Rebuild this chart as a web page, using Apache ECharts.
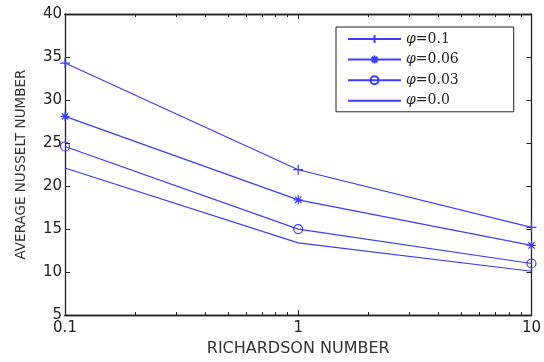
<!DOCTYPE html>
<html>
<head>
<meta charset="utf-8">
<script src="https://cdn.jsdelivr.net/npm/echarts@6/dist/echarts.min.js"></script>
<style>
  html, body { margin: 0; padding: 0; background: #fff; }
  #chart { width: 544px; height: 362px; }
</style>
</head>
<body>
<div id="chart"></div>
<script>
// x positions (Richardson number, log scale)
const richardson = [0.1, 1, 10];
const seriesNames = ['φ=0.1', 'φ=0.06', 'φ=0.03', 'φ=0.0'];
const nu01 = [34.3, 21.9, 15.2];
const nu006 = [28.1, 18.4, 13.1];
const nu003 = [24.6, 15.0, 11.0];
const nu00 = [22.1, 13.4, 10.1];
const majorTicks = [0.1, 1, 10];
const minorTicks = [0.2, 0.3, 0.4, 0.5, 0.6, 0.7, 0.8, 0.9, 2, 3, 4, 5, 6, 7, 8, 9];

const blue = '#3c3cff';
const plusPath = 'path://M0,5L10,5M5,0L5,10';
const starPath = 'path://M0,5L10,5M5,0L5,10M1.5,1.5L8.5,8.5M1.5,8.5L8.5,1.5';

const chart = echarts.init(document.getElementById('chart'));

const pairs = (ys) => richardson.map((x, i) => [x, ys[i]]);

const baseLine = (name, data, symbol, size) => ({
    name,
    type: 'line',
    data: pairs(data),
    symbol: symbol,
    symbolSize: size,
    showSymbol: symbol !== 'none',
    lineStyle: { color: blue, width: 1.2 },
    itemStyle: { color: 'rgba(0,0,0,0)', borderColor: blue, borderWidth: 1.2 },
    emphasis: { disabled: true },
    animation: false
});

const tickFont = { color: '#222', fontSize: 15, fontFamily: 'DejaVu Sans' };

const logAxis = (pos, ticks, len, labels) => ({
    type: 'log',
    logBase: 10,
    position: pos,
    min: 0.1,
    max: 10,
    axisLine: { show: true, onZero: false, lineStyle: { color: '#222', width: 1.3 } },
    axisTick: { show: true, inside: true, length: len, customValues: ticks, lineStyle: { color: '#222', width: 1 } },
    axisLabel: labels ? Object.assign({
        show: true, customValues: ticks, margin: 6,
        formatter: (v) => String(v)
    }, tickFont) : { show: false },
    splitLine: { show: false },
    minorTick: { show: false }
});

const option = {
    backgroundColor: '#fff',
    grid: { left: 65, right: 9.5, top: 14, bottom: 41, containLabel: false },
    xAxis: [
        Object.assign(logAxis('bottom', majorTicks, 5, true), {
            name: 'RICHARDSON NUMBER',
            nameLocation: 'middle',
            nameGap: 25,
            nameTextStyle: { color: '#333', fontSize: 16, fontFamily: 'DejaVu Sans' }
        }),
        logAxis('bottom', minorTicks, 3, false),
        logAxis('top', majorTicks, 5, false),
        logAxis('top', minorTicks, 3, false)
    ],
    yAxis: [
        {
            type: 'value',
            position: 'left',
            min: 5,
            max: 40,
            interval: 5,
            name: 'AVERAGE NUSSELT NUMBER',
            nameLocation: 'middle',
            nameGap: 37,
            nameTextStyle: { color: '#333', fontSize: 13.5, fontFamily: 'DejaVu Sans' },
            axisLine: { show: true, lineStyle: { color: '#222', width: 1.3 } },
            axisTick: { show: true, inside: true, length: 5, lineStyle: { color: '#222' } },
            axisLabel: Object.assign({ margin: 3 }, tickFont),
            splitLine: { show: false }
        },
        {
            type: 'value',
            position: 'right',
            min: 5,
            max: 40,
            interval: 5,
            axisLine: { show: true, lineStyle: { color: '#222', width: 1.3 } },
            axisTick: { show: true, inside: true, length: 5, lineStyle: { color: '#222' } },
            axisLabel: { show: false },
            splitLine: { show: false }
        }
    ],
    legend: {
        orient: 'vertical',
        left: 336,
        top: 27,
        padding: [5, 55, 4, 11],
        itemWidth: 53,
        itemHeight: 10,
        itemGap: 6.6,
        borderColor: '#222',
        borderWidth: 1,
        backgroundColor: '#fff',
        data: [
            seriesNames[0],
            seriesNames[1],
            seriesNames[2],
            { name: seriesNames[3], itemStyle: { opacity: 0 } }
        ],
        formatter: (name) => '{i|φ}' + name.slice(1),
        textStyle: {
            color: '#222', fontSize: 14, fontFamily: 'DejaVu Serif',
            rich: { i: { fontStyle: 'italic', fontSize: 14, fontFamily: 'DejaVu Serif', color: '#222' } }
        }
    },
    series: [
        baseLine(seriesNames[0], nu01, plusPath, 10),
        baseLine(seriesNames[1], nu006, starPath, 9),
        baseLine(seriesNames[2], nu003, 'circle', 9),
        baseLine(seriesNames[3], nu00, 'none', 0)
    ]
};

chart.setOption(option);
</script>
</body>
</html>
